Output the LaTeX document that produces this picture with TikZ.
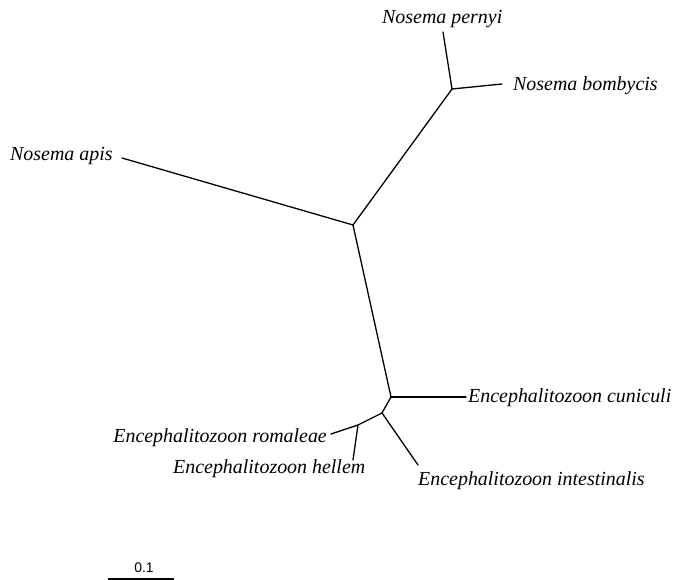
\documentclass[tikz,border=0pt]{standalone}
\usepackage{fontspec}
\setmainfont{Liberation Serif}
\setsansfont{Liberation Sans}

\tikzset{
  taxon/.style={inner sep=0pt, font=\fontsize{20}{24}\selectfont\itshape},
  branch/.style={line width=1.3bp, line cap=round}
}

\begin{document}
\begin{tikzpicture}[x=1bp,y=-1bp]

  \useasboundingbox (0,0) rectangle (677,580);

  % inner nodes
  \coordinate (root) at (353,225);
  \coordinate (nos)  at (452,89);
  \coordinate (enc1) at (391,397);
  \coordinate (enc2) at (382,413);
  \coordinate (enc3) at (358,425);

  % leaf tips
  \coordinate (tapis)   at (122,158);
  \coordinate (tpernyi) at (443,32);
  \coordinate (tbomby)  at (502,84);
  \coordinate (tcuni)   at (466,397);
  \coordinate (tintest) at (418,465);
  \coordinate (troma)   at (331,434);
  \coordinate (thellem) at (353,460);

  % taxa
  \node[taxon, anchor=base west] (apis)   at (10,161)  {Nosema apis};
  \node[taxon, anchor=base west] (pernyi) at (382,24)  {Nosema pernyi};
  \node[taxon, anchor=base west] (bomby)  at (513,91)  {Nosema bombycis};
  \node[taxon, anchor=base west] (cuni)   at (468,402) {Encephalitozoon cuniculi};
  \node[taxon, anchor=base east] (roma)   at (327,442) {Encephalitozoon romaleae};
  \node[taxon, anchor=base west] (hellem) at (173,473) {Encephalitozoon hellem};
  \node[taxon, anchor=base west] (intest) at (418,485) {Encephalitozoon intestinalis};

  % branches
  \draw[branch] (tapis) -- (root);
  \draw[branch] (root) -- (nos);
  \draw[branch] (nos) -- (tpernyi);
  \draw[branch] (nos) -- (tbomby);
  \draw[branch] (root) -- (enc1);
  \draw[branch] (enc1) -- (tcuni);
  \draw[branch] (enc1) -- (enc2);
  \draw[branch] (enc2) -- (tintest);
  \draw[branch] (enc2) -- (enc3);
  \draw[branch] (enc3) -- (troma);
  \draw[branch] (enc3) -- (thellem);

  % scale bar
  \coordinate (sbl) at (108,579);
  \coordinate (sbr) at (174,579);
  \draw[line width=1.3bp] (sbl) -- (sbr);
  \node[inner sep=0pt, anchor=base, font=\sffamily\fontsize{14}{16}\selectfont] (scale) at (144,572) {0.1};

\end{tikzpicture}
\end{document}
